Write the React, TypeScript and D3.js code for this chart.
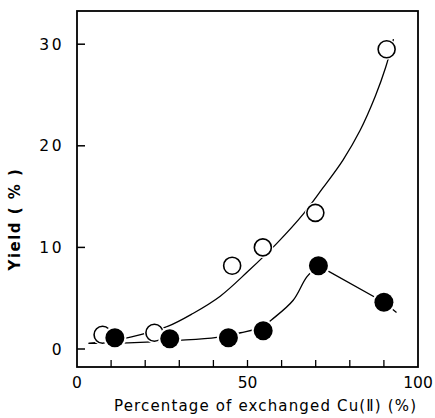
import React from "react";
import * as d3 from "d3";

const openX = [7.5, 22.7, 45.5, 54.5, 69.9, 90.8];
const openY = [1.4, 1.6, 8.2, 10.0, 13.4, 29.5];
const filledX = [11.1, 27.2, 44.4, 54.6, 70.8, 90.0];
const filledY = [1.1, 1.0, 1.1, 1.8, 8.2, 4.6];

const openCurveX = [3.4, 10, 16, 26.4, 34, 42, 50, 58.6, 66.4, 72, 78, 83, 87.5, 90.5, 92.8];
const openCurveY = [0.55, 0.85, 1.2, 2.2, 3.5, 5.2, 7.6, 10.4, 13.3, 15.8, 18.6, 21.5, 24.9, 27.7, 30.5];
const filledCurveX = [3.4, 15, 30, 41, 48, 54.6, 57, 63.4, 67.4, 70.8];
const filledCurveY = [0.55, 0.6, 0.85, 1.15, 1.6, 2.2, 2.85, 4.8, 7.1, 8.2];
const filledTailX = [70.8, 90.0, 93.7];
const filledTailY = [8.2, 4.6, 3.6];

const xTicks = [10, 20, 30, 40, 50, 60, 70, 80, 90];
const xLabels = [0, 50, 100];
const yTicks = [0, 10, 20, 30];

export default function App() {
  const left = 77, right = 418, top = 11, bottom = 367;
  const x = d3.scaleLinear().domain([0, 100]).range([left, right]);
  const y = d3.scaleLinear().domain([0, 10]).range([349, 247.4]);

  const smooth = d3
    .line<[number, number]>()
    .x((d) => x(d[0]))
    .y((d) => y(d[1]))
    .curve(d3.curveCatmullRom.alpha(0.5));
  const straight = d3
    .line<[number, number]>()
    .x((d) => x(d[0]))
    .y((d) => y(d[1]));

  const zip = (a: number[], b: number[]) => a.map((v, i) => [v, b[i]] as [number, number]);
  const font = "'DejaVu Sans', sans-serif";

  return (
    <svg
      width={435}
      height={418}
      style={{ position: "absolute", left: 0, top: 0, background: "#fff" }}
    >
      <rect x={left} y={top} width={right - left} height={bottom - top} fill="none" stroke="#000" strokeWidth={1.8} />
      {xTicks.map((t) => (
        <line key={"xt" + t} x1={x(t)} x2={x(t)} y1={bottom} y2={bottom - 7} stroke="#000" strokeWidth={1.3} />
      ))}
      {yTicks.map((t) => (
        <line key={"yt" + t} x1={left} x2={left + 8} y1={y(t)} y2={y(t)} stroke="#000" strokeWidth={1.5} />
      ))}
      {yTicks.map((t) => (
        <text key={"yl" + t} x={64} y={y(t)} dy="0.36em" textAnchor="end" fontFamily={font} fontSize={15.5} letterSpacing={2.5} fill="#000">
          {t}
        </text>
      ))}
      {xLabels.map((t) => (
        <text key={"xl" + t} x={x(t)} y={388} textAnchor="middle" fontFamily={font} fontSize={15.5} fill="#000">
          {t}
        </text>
      ))}
      <text x={265} y={411} textAnchor="middle" fontFamily={font} fontSize={15} textLength={302} lengthAdjust="spacing" fill="#000">
        Percentage of exchanged  Cu(Ⅱ) (%)
      </text>
      <text
        transform="translate(20,219) rotate(-90)"
        textAnchor="middle"
        fontFamily={font}
        fontSize={15}
        fontWeight="bold"
        letterSpacing={1.5}
        fill="#000"
      >
        Yield ( % )
      </text>

      <path d={smooth(zip(openCurveX, openCurveY)) || ""} fill="none" stroke="#000" strokeWidth={1.3} />
      <path d={smooth(zip(filledCurveX, filledCurveY)) || ""} fill="none" stroke="#000" strokeWidth={1.3} />
      <path d={straight(zip(filledTailX, filledTailY)) || ""} fill="none" stroke="#000" strokeWidth={1.3} />

      {openX.map((v, i) => (
        <g key={"o" + i}>
          <circle cx={x(v)} cy={y(openY[i])} r={10.5} fill="#fff" />
          <circle cx={x(v)} cy={y(openY[i])} r={8.5} fill="#fff" stroke="#000" strokeWidth={1.6} />
        </g>
      ))}
      {filledX.map((v, i) => (
        <g key={"f" + i}>
          <circle cx={x(v)} cy={y(filledY[i])} r={11.5} fill="#fff" />
          <circle cx={x(v)} cy={y(filledY[i])} r={9.5} fill="#000" />
        </g>
      ))}
    </svg>
  );
}
